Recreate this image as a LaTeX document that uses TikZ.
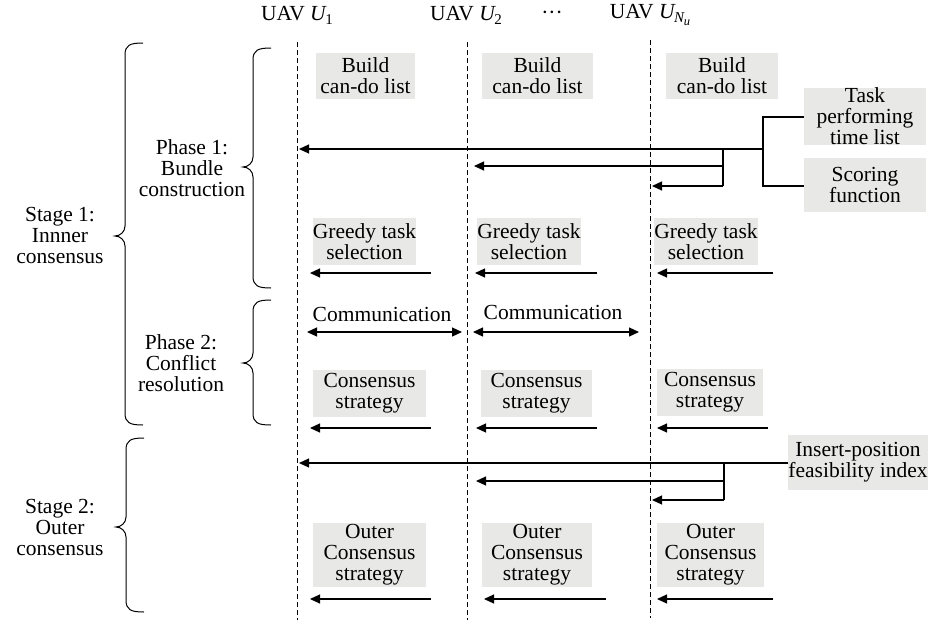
\documentclass[tikz,border=0pt]{standalone}
\usepackage{fontspec}
\setmainfont{Liberation Serif}
\usetikzlibrary{arrows.meta}
\definecolor{boxgray}{RGB}{232,233,231}
\newcommand\uavU[1]{UAV \textit{U}\kern-1.5pt\raisebox{-4pt}{\fontsize{15}{15}\selectfont #1}}
\newcommand\bracepath[4]{% x of vertical, y top, y bottom, y tip
  (#1+18,#2) .. controls (#1+5,#2) and (#1,#2+2) .. (#1,#2+12) -- (#1,#4-10)
  .. controls (#1,#4-4) and (#1-5,#4) .. (#1-10,#4)
  .. controls (#1-5,#4) and (#1,#4+4) .. (#1,#4+10) -- (#1,#3-12)
  .. controls (#1,#3-2) and (#1+5,#3) .. (#1+18,#3)}
\begin{document}
\begin{tikzpicture}[x=1pt,y=-1pt,
  every node/.style={font=\fontsize{21.5}{21}\selectfont, inner sep=0pt, align=center},
  gbox/.style={fill=boxgray, minimum height=#1},
  gbox/.default=47,
  lane/.style={line width=0.9pt, dash pattern=on 4.5pt off 3.5pt},
  conn/.style={line width=1.2pt},
  arr/.style={line width=1.2pt, -{Triangle[length=10pt,width=9pt]}},
  darr/.style={line width=1.2pt, {Triangle[length=10pt,width=9pt]}-{Triangle[length=10pt,width=9pt]}},
  brc/.style={line width=1pt}]
\useasboundingbox (0,0) rectangle (929,624);

% headers
\node (h1) at (297,15) {\uavU{1}};
\node (h2) at (466,15) {\uavU{2}};
\node (hd) at (552,15) {\textperiodcentered\textperiodcentered\textperiodcentered};
\node (h3) at (650,15) {UAV \textit{U}\kern-1.5pt\raisebox{-4pt}{\fontsize{15}{15}\selectfont\textit{N}\kern-1pt\raisebox{-3.5pt}{\fontsize{12.5}{12.5}\selectfont\textit{u}}}};

% lanes
\coordinate (l1t) at (297,42); \coordinate (l1b) at (297,620);
\coordinate (l2t) at (467,42); \coordinate (l2b) at (467,620);
\coordinate (l3t) at (650,40); \coordinate (l3b) at (650,618);
\draw[lane] (l1t) -- (l1b);
\draw[lane] (l2t) -- (l2b);
\draw[lane] (l3t) -- (l3b);

% braces
\draw[brc] \bracepath{125}{43}{425}{236};
\draw[brc] \bracepath{126}{438}{612}{527};
\draw[brc] \bracepath{253}{48}{288}{167};
\draw[brc] \bracepath{253}{300}{425}{363};
\node (s1) at (60,235) {Stage 1:\\Innner\\consensus};
\node (s2) at (60,527) {Stage 2:\\Outer\\consensus};
\node (p1) at (192,168) {Phase 1:\\Bundle\\construction};
\node (p2) at (181,363) {Phase 2:\\Conflict\\resolution};

% build can-do list
\node[gbox=46, minimum width=99] (b1) at (365.5,76) {Build\\can-do list};
\node[gbox=46, minimum width=111] (b2) at (537.5,76) {Build\\can-do list};
\node[gbox=46, minimum width=112] (b3) at (722,76) {Build\\can-do list};

% inputs
\node[gbox=57, minimum width=122] (task) at (865,116.5) {Task\\performing\\time list};
\node[gbox=54, minimum width=122] (score) at (865,184.5) {Scoring\\function};

\coordinate (j1) at (763,117); \coordinate (j2) at (763,149); \coordinate (j3) at (763,186);
\coordinate (k1) at (723,149); \coordinate (k2) at (723,166); \coordinate (k3) at (723,186);
\coordinate (t1) at (299,149); \coordinate (t2) at (474,166); \coordinate (t3) at (652,186);
\draw[conn] (j1 -| task.west) -- (j1) -- (j3) -- (j3 -| score.west);
\draw[arr] (j2) -- (t1);
\draw[conn] (k1) -- (k3);
\draw[arr] (k2) -- (t2);
\draw[arr] (k3) -- (t3);

% greedy task selection
\node[gbox=47, minimum width=103] (g1) at (364.5,241.5) {Greedy task\\selection};
\node[gbox=47, minimum width=102] (g2) at (529,241.5) {Greedy task\\selection};
\node[gbox=47, minimum width=102] (g3) at (706,241.5) {Greedy task\\selection};

% communication
\coordinate (c1a) at (307,332); \coordinate (c1b) at (462,332);
\coordinate (c2a) at (473,332); \coordinate (c2b) at (639,332);
\draw[darr] (c1a) -- (c1b);
\draw[darr] (c2a) -- (c2b);
\node (cm1) at (382,314) {Communication};
\node (cm2) at (553,312) {Communication};

% consensus strategy
\node[gbox=47, minimum width=113] (cs1) at (369.5,393.5) {Consensus\\strategy};
\node[gbox=47, minimum width=111] (cs2) at (536.5,393.5) {Consensus\\strategy};
\node[gbox=47, minimum width=106] (cs3) at (710,392) {Consensus\\strategy};

% insert-position
\node[gbox=55, minimum width=136] (ins) at (858,462.5) {Insert-position\\feasibility index};
\coordinate (m1) at (724,463); \coordinate (m2) at (724,481); \coordinate (m3) at (724,500);
\coordinate (i1) at (299,463); \coordinate (i2) at (476,481); \coordinate (i3) at (652,500);
\draw[arr] (ins.west |- m1) -- (i1);
\draw[conn] (m1) -- (m3);
\draw[arr] (m2) -- (i2);
\draw[arr] (m3) -- (i3);

% outer consensus strategy
\node[gbox=64, minimum width=113] (o1) at (369.5,555) {Outer\\Consensus\\strategy};
\node[gbox=64, minimum width=110] (o2) at (537,555) {Outer\\Consensus\\strategy};
\node[gbox=64, minimum width=107] (o3) at (710.5,555) {Outer\\Consensus\\strategy};

% short arrows
\foreach \n/\xa/\xb/\y in {ga/431/310/273, gb/597/475/273, gc/773/657/273,
    ca/431/310/428, cb/597/476/428, cc/768/657/428,
    oa/431/310/599, ob/606/484/599, oc/773/657/599}{
  \coordinate (\n s) at (\xa,\y);
  \coordinate (\n e) at (\xb,\y);
  \draw[arr] (\n s) -- (\n e);
}
\end{tikzpicture}
\end{document}
